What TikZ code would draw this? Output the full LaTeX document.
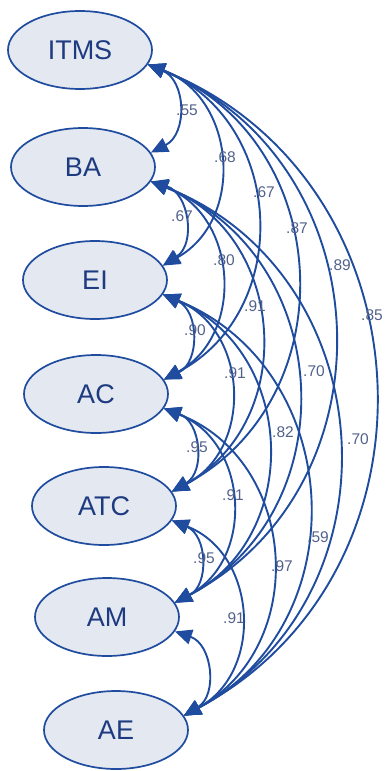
\documentclass[tikz,border=0pt]{standalone}
\usepackage{fontspec}
\setmainfont{Liberation Sans}
\usetikzlibrary{shapes.geometric,arrows.meta}
\definecolor{linec}{HTML}{1F4C9E}
\definecolor{nodefill}{HTML}{E3E8F1}
\definecolor{nodetext}{HTML}{1E3A80}
\definecolor{labc}{HTML}{52618A}
\begin{document}
\begin{tikzpicture}[x=1pt,y=-1pt,
  lv/.style={ellipse, draw=linec, line width=1.7pt, fill=nodefill, minimum width=144pt, minimum height=78pt, inner sep=0pt, text=nodetext, font=\fontsize{27}{29}\selectfont},
  cov/.style={draw=linec, line width=1.9pt, {Triangle[length=17pt,width=15pt]}-{Triangle[length=17pt,width=15pt]}, bend left=65, looseness=1.2},
  lab/.style={text=labc, font=\fontsize{15.5}{17}\selectfont, inner sep=0pt}]
\useasboundingbox (0,0) rectangle (384,771);
\node[lv] (ITMS) at (80,50) {ITMS};
\node[lv] (BA) at (83,167) {BA};
\node[lv] (EI) at (95,280) {EI};
\node[lv] (AC) at (96,394) {AC};
\node[lv] (ATC) at (104,506) {ATC};
\node[lv] (AM) at (107,617) {AM};
\node[lv] (AE) at (116,730) {AE};
\foreach \a/\b in {ITMS/BA,ITMS/EI,ITMS/AC,ITMS/ATC,ITMS/AM,ITMS/AE,
  BA/EI,BA/AC,BA/ATC,BA/AM,BA/AE,
  EI/AC,EI/ATC,EI/AM,EI/AE,
  AC/ATC,AC/AM,AC/AE,
  ATC/AM,ATC/AE,
  AM/AE}
  \draw[cov] (\a.-12) to (\b.12);
\node[lab] (l1) at (187,110) {.55};
\node[lab] (l2) at (225,157) {.68};
\node[lab] (l3) at (264,192) {.67};
\node[lab] (l4) at (297,228) {.87};
\node[lab] (l5) at (340,265) {.89};
\node[lab] (l6) at (372,315) {.85};
\node[lab] (l7) at (182,216) {.67};
\node[lab] (l8) at (224,260) {.80};
\node[lab] (l9) at (255,306) {.91};
\node[lab] (l10) at (314,371) {.70};
\node[lab] (l11) at (358,439) {.70};
\node[lab] (l12) at (195,330) {.90};
\node[lab] (l13) at (235,373) {.91};
\node[lab] (l14) at (283,432) {.82};
\node[lab] (l15) at (318,537) {.59};
\node[lab] (l16) at (197,447) {.95};
\node[lab] (l17) at (233,495) {.91};
\node[lab] (l18) at (282,566) {.97};
\node[lab] (l19) at (204,558) {.95};
\node[lab] (l20) at (234,618) {.91};
\end{tikzpicture}
\end{document}
